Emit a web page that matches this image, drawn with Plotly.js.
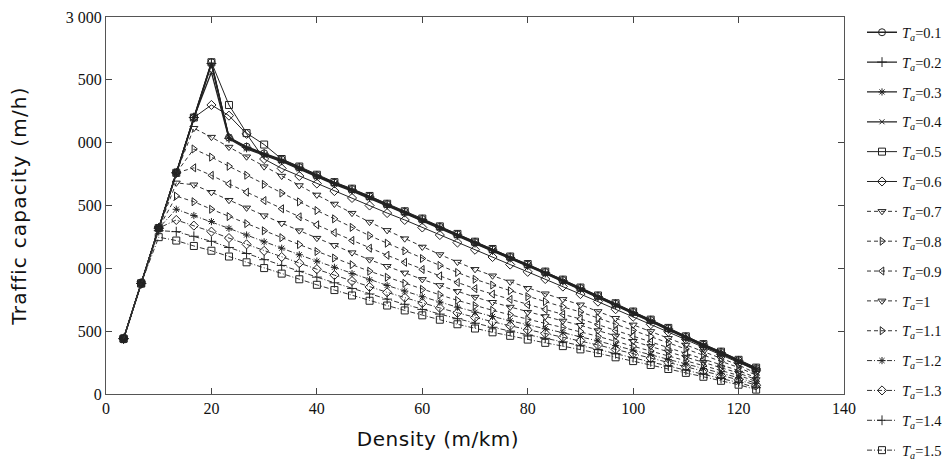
<!DOCTYPE html>
<html>
<head>
<meta charset="utf-8">
<script src="https://cdn.plot.ly/plotly-3.0.1.min.js"></script>
<style>
html,body{margin:0;padding:0;background:#fff;}
#chart{width:944px;height:466px;}
#chart .g-xtitle text{letter-spacing:0.5px;}
#chart .g-ytitle text{letter-spacing:1.2px;}
#chart g.legend g.scrollbox{transform:translate(4px,0px);}
</style>
</head>
<body>
<div id="chart"></div>
<script>
// Density (m/km)
const density = [3.33, 6.67, 10, 13.33, 16.67, 20, 23.33, 26.67, 30, 33.33, 36.67, 40, 43.33, 46.67, 50, 53.33, 56.67, 60, 63.33, 66.67, 70, 73.33, 76.67, 80, 83.33, 86.67, 90, 93.33, 96.67, 100, 103.33, 106.67, 110, 113.33, 116.67, 120, 123.33];

// Traffic capacity (m/h) per reaction time T_a
const Ta01 = [440,880,1320,1760,2200,2640,2040,1968,1915,1866,1805,1740,1682,1630,1572,1510,1450,1392,1330,1270,1208,1150,1090,1030,970,906,843,780,718,652,588,522,455,393,333,268,205];
const Ta02 = [440,880,1320,1760,2200,2630,2035,1962,1910,1860,1800,1736,1678,1625,1568,1506,1446,1388,1326,1266,1204,1146,1086,1026,966,902,839,776,714,648,584,518,451,389,329,264,200];
const Ta03 = [440,880,1320,1760,2200,2625,2045,1958,1905,1855,1796,1732,1674,1620,1564,1502,1442,1384,1322,1262,1200,1142,1082,1022,962,898,835,772,710,644,580,514,447,385,325,260,196];
const Ta04 = [440,880,1320,1760,2200,2560,2030,1950,1898,1850,1790,1726,1668,1615,1558,1497,1437,1379,1318,1257,1196,1138,1078,1018,958,894,831,768,706,640,576,510,443,381,321,256,192];
const Ta05 = [440,880,1320,1760,2200,2640,2300,2076,1985,1870,1810,1745,1686,1634,1576,1514,1454,1396,1334,1274,1212,1154,1094,1034,974,910,847,784,722,656,592,526,459,397,337,272,210];
const Ta06 = [440,880,1320,1760,2200,2300,2215,2070,1870,1795,1735,1675,1615,1560,1500,1440,1385,1325,1265,1205,1148,1090,1030,972,915,855,795,735,675,615,555,495,435,375,315,250,190];
const Ta07 = [440,880,1320,1760,2115,2044,1965,1888,1809,1734,1659,1584,1512,1439,1368,1302,1236,1170,1110,1050,992,941,892,841,798,753,710,657,603,550,498,443,390,338,283,231,165];
const Ta08 = [440,880,1320,1760,1950,1885,1812,1741,1668,1599,1529,1460,1394,1326,1260,1200,1139,1078,1023,967,913,867,821,775,735,693,653,605,554,506,457,407,358,310,259,211,150];
const Ta09 = [440,880,1320,1760,1800,1740,1672,1606,1539,1474,1410,1346,1284,1222,1160,1104,1048,991,940,888,838,795,753,710,673,634,597,552,505,460,415,368,323,278,231,186,130];
const Ta10 = [440,880,1320,1680,1665,1605,1542,1481,1419,1359,1300,1240,1183,1125,1069,1016,964,912,864,817,771,730,692,651,617,581,547,505,462,420,379,336,294,252,209,167,115];
const Ta11 = [440,880,1320,1575,1530,1470,1412,1356,1299,1244,1189,1134,1082,1029,977,929,881,833,789,745,703,666,630,593,562,529,497,459,419,381,342,303,264,226,186,148,100];
const Ta12 = [440,880,1320,1470,1420,1372,1318,1265,1211,1160,1108,1057,1008,958,909,864,819,774,732,691,651,617,583,548,519,488,458,422,385,349,313,275,239,203,166,130,85];
const Ta13 = [440,880,1320,1385,1340,1292,1241,1191,1139,1090,1041,993,946,899,852,809,767,724,685,646,608,575,543,510,482,452,424,390,355,321,286,251,217,182,147,113,70];
const Ta14 = [440,880,1300,1292,1255,1215,1166,1118,1069,1023,976,930,885,840,796,755,714,673,636,599,563,531,501,469,443,415,388,355,321,289,256,222,190,157,123,91,50];
const Ta15 = [440,880,1248,1221,1178,1140,1094,1048,1002,958,913,869,827,784,742,704,665,626,591,555,521,491,463,433,407,381,355,325,292,262,231,199,168,137,105,74,35];

const seriesNames = ['0.1','0.2','0.3','0.4','0.5','0.6','0.7','0.8','0.9','1','1.1','1.2','1.3','1.4','1.5'];
const seriesData = [Ta01,Ta02,Ta03,Ta04,Ta05,Ta06,Ta07,Ta08,Ta09,Ta10,Ta11,Ta12,Ta13,Ta14,Ta15];

const xTicks = [0,20,40,60,80,100,120,140];
const yTicks = [0,500,1000,1500,2000,2500,3000];
const yTickText = ['0','500','000','500','000','500','3 000'];

// styles
const symbols = ['circle-open','cross-thin-open','asterisk-open','x-thin-open','square-open','diamond-open',
  'triangle-down-open','triangle-right-open','triangle-left-open','triangle-down-open','triangle-right-open',
  'asterisk-open','diamond-open','cross-thin-open','square-open'];
const dashes = ['solid','solid','solid','solid','solid','solid','4px,3px','4px,3px','4px,3px','4px,3px','4px,3px',
  '5px,2px,1px,2px','5px,2px,1px,2px','5px,2px,1px,2px','5px,2px,1px,2px'];
const sizes = [7,7,6,5,7,7,7,7,7,7,7,6,7,7,7];

const traces = seriesData.map((ys,i)=>({
  type:'scatter', mode:'lines+markers',
  x: density, y: ys,
  name: '<i>T</i><sub><i>a</i></sub>=' + seriesNames[i],
  legendgroup: 'g'+i,
  line: {color: i<6 ? '#222' : '#333', width: i<4 ? 1.3 : 1, dash: dashes[i]},
  marker: {symbol: symbols[i], size: sizes[i], color: '#222', line: {color:'#222', width: 1}}
}));

const axisFont = {family:'Liberation Serif, serif', size:16, color:'#111'};
const titleFont = {family:'DejaVu Sans, sans-serif', size:20, color:'#111'};
const layout = {
  width:944, height:466,
  margin:{l:106, r:100, t:17, b:72},
  paper_bgcolor:'#fff', plot_bgcolor:'#fff',
  showlegend:true,
  legend:{xref:'container', yref:'container', x:1, xanchor:'right', y:0.965, yanchor:'top', maxheight:466,
    font:{family:'Liberation Serif, serif', size:14.5, color:'#111'},
    bgcolor:'rgba(0,0,0,0)', tracegroupgap:8, itemwidth:30},
  xaxis:{range:[0,140], tickvals:xTicks, ticktext:xTicks.map(String), ticks:'inside', ticklen:6,
    tickcolor:'#444', mirror:'ticks', showline:true, linecolor:'#555', linewidth:1,
    showgrid:false, zeroline:false, tickfont:axisFont,
    title:{text:'Density (m/km)', font:titleFont, standoff:15}},
  yaxis:{range:[0,3000], tickvals:yTicks, ticktext:yTickText, ticks:'inside', ticklen:6,
    tickcolor:'#444', mirror:'ticks', showline:true, linecolor:'#555', linewidth:1,
    showgrid:false, zeroline:false, tickfont:axisFont,
    title:{text:'Traffic capacity (m/h)', font:titleFont, standoff:33}}
};

Plotly.newPlot('chart', traces, layout, {displayModeBar:false, staticPlot:true}).then(gd => {
  // the reference places the x-axis title left of the plot centre
  const t = gd.querySelector('.g-xtitle text');
  if (t) { t.setAttribute('x', parseFloat(t.getAttribute('x')) - 37); }
});
</script>
</body>
</html>
